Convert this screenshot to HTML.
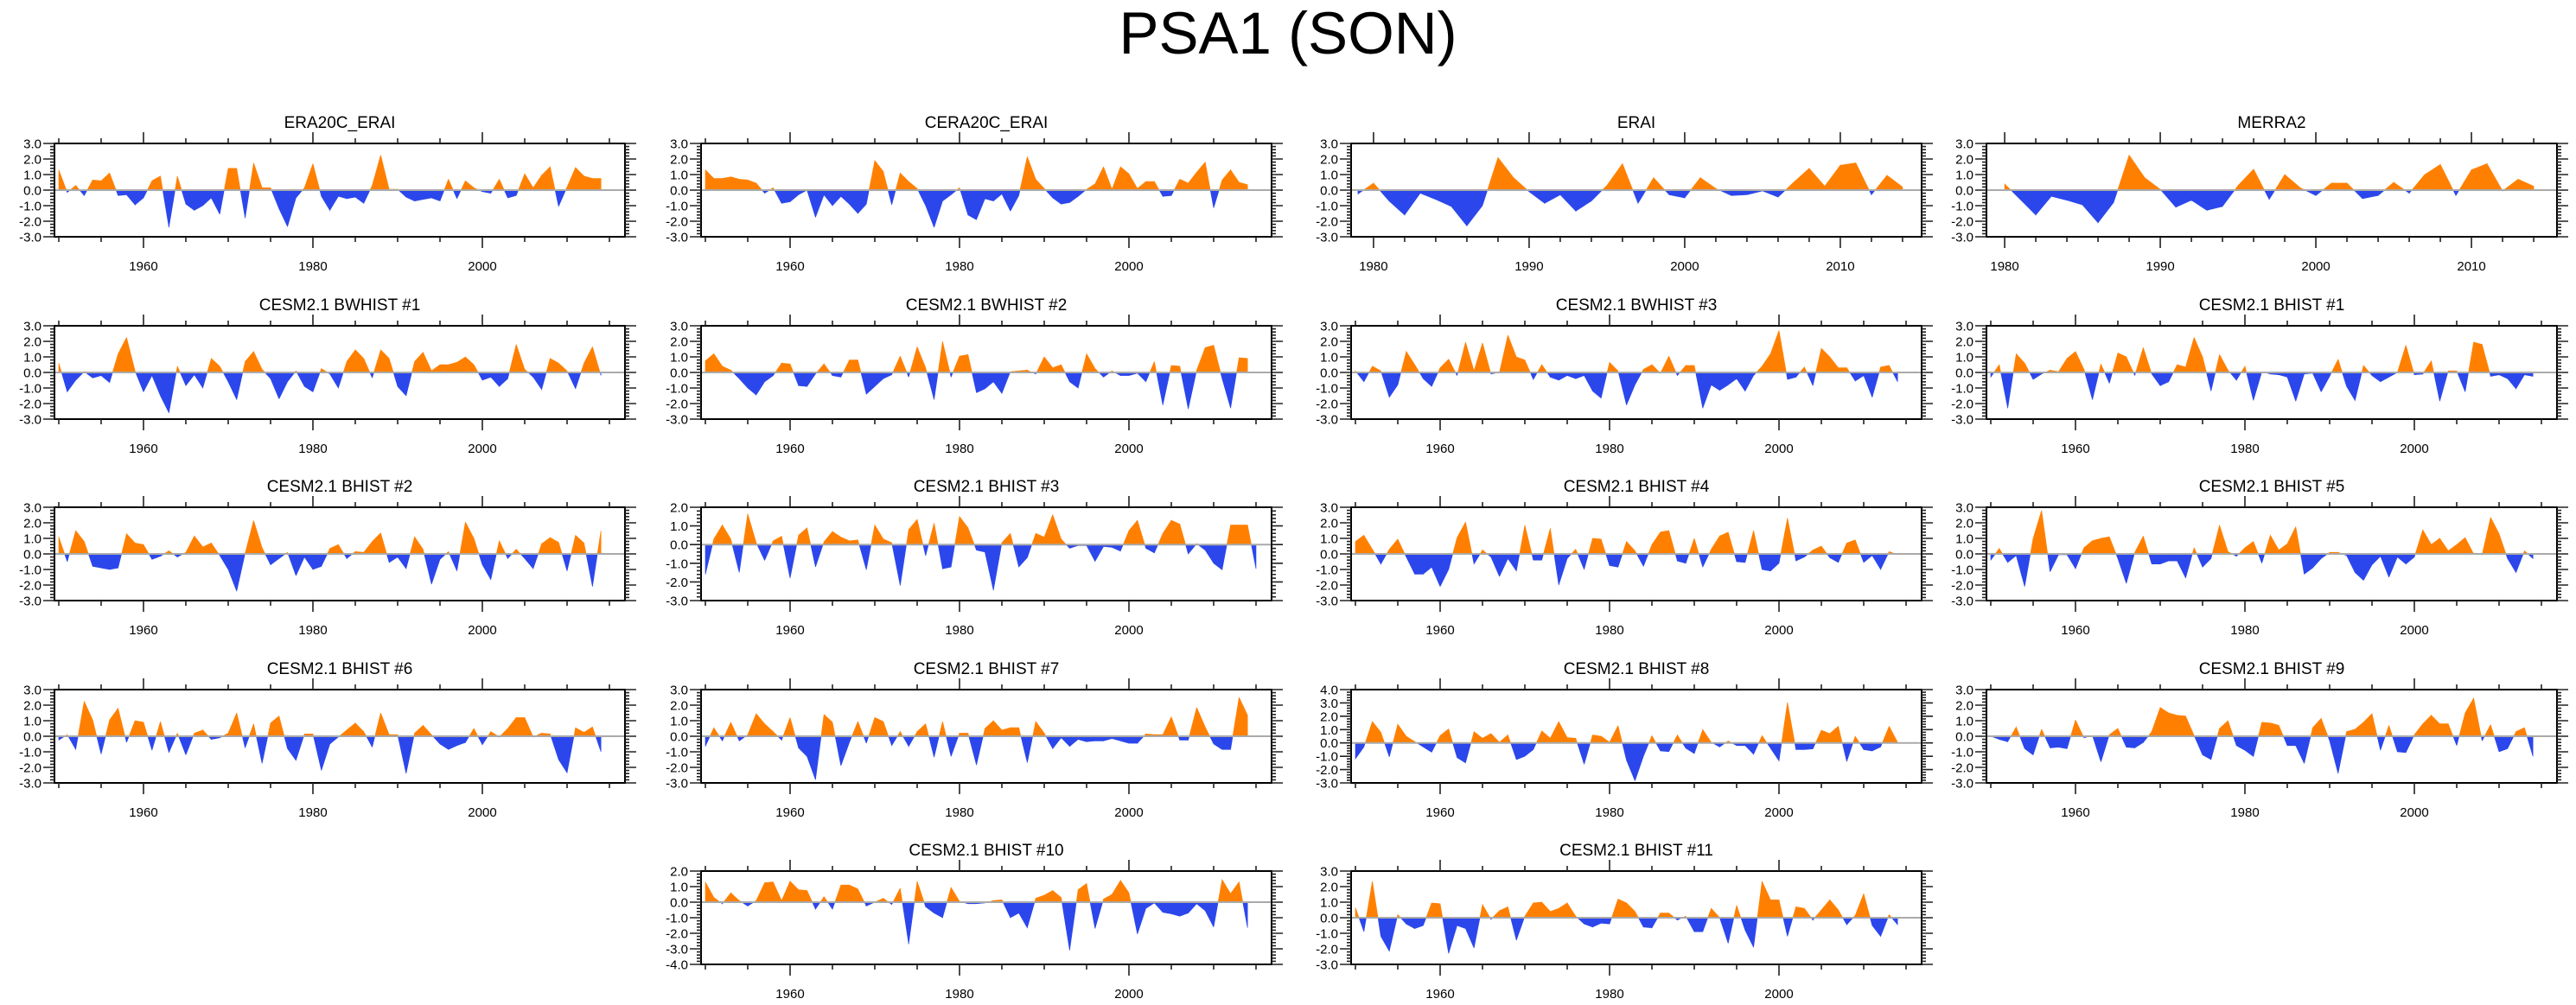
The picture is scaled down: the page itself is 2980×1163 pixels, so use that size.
<!DOCTYPE html>
<html><head><meta charset="utf-8"><title>PSA1 (SON)</title>
<style>
html,body{margin:0;padding:0;background:#fff;}
svg{display:block;font-family:"Liberation Sans",Arial,sans-serif;}
</style></head>
<body>
<svg id="chart" width="2980" height="1163" viewBox="0 0 2980 1163" xmlns="http://www.w3.org/2000/svg">
<rect x="0" y="0" width="2980" height="1163" fill="#fff"/>
<text x="1490" y="62" font-size="69" text-anchor="middle" fill="#000">PSA1 (SON)</text>
<defs id="clips"></defs>
</svg>
<script>
// ---- data (PSA1 index, SON) ----
const era20cVals = [1.3,-0.15,0.3,-0.35,0.65,0.6,1.1,-0.35,-0.3,-0.95,-0.5,0.6,0.9,-2.4,0.9,-0.9,-1.3,-1.0,-0.5,-1.55,1.4,1.4,-1.8,1.75,0.15,0.15,-1.2,-2.35,-0.5,0.15,1.7,-0.4,-1.3,-0.4,-0.55,-0.45,-0.85,0.3,2.25,0.05,0.05,-0.45,-0.7,-0.6,-0.5,-0.7,0.7,-0.55,0.6,0.15,-0.1,-0.2,0.7,-0.5,-0.35,1.05,0.15,0.95,1.5,-1.05,0.2,1.45,0.9,0.75,0.75];
const cera20cVals = [1.3,0.75,0.75,0.85,0.7,0.65,0.45,-0.2,0.15,-0.85,-0.75,-0.3,0.0,-1.75,-0.3,-1.0,-0.4,-0.9,-1.5,-0.9,1.9,1.2,-0.95,1.1,0.55,0.1,-1.0,-2.4,-0.7,-0.3,0.15,-1.6,-1.9,-0.55,-0.7,-0.25,-1.35,-0.35,2.15,0.7,0.1,-0.5,-0.9,-0.8,-0.4,0.05,0.4,1.5,0.05,1.5,1.05,0.1,0.55,0.55,-0.4,-0.35,0.7,0.45,1.15,1.8,-1.15,0.65,1.3,0.5,0.35];
const eraiVals = [-0.25,0.45,-0.7,-1.6,-0.2,-0.6,-1.05,-2.3,-1.0,2.1,0.8,-0.1,-0.85,-0.3,-1.35,-0.7,0.3,1.7,-0.85,0.8,-0.3,-0.5,0.8,0.1,-0.35,-0.3,-0.05,-0.45,0.5,1.4,0.25,1.6,1.75,-0.3,0.95,0.2];
const merra2Vals = [0.4,-0.6,-1.6,-0.4,-0.65,-0.95,-2.1,-0.8,2.25,0.8,0.05,-1.1,-0.65,-1.3,-1.05,0.3,1.35,-0.6,1.0,0.15,-0.35,0.45,0.45,-0.55,-0.35,0.5,-0.2,1.0,1.65,-0.35,1.3,1.7,-0.05,0.7,0.25];
const bwhist1Vals = [0.6,-1.25,-0.5,0.05,-0.35,-0.2,-0.65,1.2,2.25,0.1,-1.25,-0.2,-1.5,-2.6,0.4,-0.85,-0.15,-1.0,0.9,0.4,-0.6,-1.75,0.7,1.35,0.2,-0.4,-1.7,-0.6,0.1,-0.9,-1.25,0.25,-0.1,-1.0,0.7,1.45,0.9,-0.35,1.45,0.9,-0.9,-1.5,0.7,1.3,0.1,0.5,0.5,0.65,1.0,0.5,-0.5,-0.3,-0.9,-0.4,1.8,0.2,-0.3,-1.1,0.9,0.6,0.1,-1.05,0.6,1.65,-0.2];
const bwhist2Vals = [0.75,1.2,0.4,0.15,-0.4,-1.0,-1.45,-0.6,-0.2,0.6,0.55,-0.85,-0.9,-0.1,0.55,-0.2,-0.3,0.8,0.8,-1.4,-0.9,-0.4,-0.15,1.05,-0.3,1.65,0.3,-1.75,2.0,-0.3,1.05,1.15,-1.3,-1.05,-0.6,-1.35,0.05,0.1,0.15,-0.1,1.0,0.3,0.5,-0.6,-1.0,1.2,0.25,-0.3,0.1,-0.2,-0.2,-0.05,-0.6,0.7,-2.1,0.45,0.4,-2.35,0.15,1.6,1.75,-0.4,-2.3,0.95,0.9];
const bwhist3Vals = [0.1,-0.6,0.4,0.1,-1.6,-0.8,1.35,0.5,-0.4,-0.9,0.3,0.85,-0.2,1.95,0.1,1.9,-0.1,0.0,2.4,1.0,0.8,-0.45,0.5,-0.3,-0.5,-0.2,-0.4,-0.2,-1.2,-1.65,0.65,0.1,-2.1,-0.8,0.2,0.5,-0.05,1.05,-0.2,0.45,0.45,-2.3,-0.8,-1.15,-0.8,-0.4,-1.2,-0.2,0.4,1.2,2.7,-0.45,-0.3,0.35,-0.85,1.55,1.0,0.3,0.3,-0.55,-0.2,-1.6,0.35,0.45,-0.6];
const bhist1Vals = [-0.3,0.5,-2.3,1.2,0.6,-0.45,-0.1,0.15,0.05,0.9,1.35,0.2,-1.75,0.55,-0.7,1.25,1.0,-0.2,1.6,-0.1,-0.85,-0.6,0.5,0.35,2.25,1.0,-1.2,1.15,0.15,-0.5,0.4,-1.8,0.05,-0.1,-0.15,-0.3,-1.85,-0.1,-0.05,-1.25,-0.25,0.85,-0.9,-1.8,0.45,-0.2,-0.6,-0.3,0.0,1.75,-0.15,-0.1,0.75,-1.85,0.1,0.1,-1.25,1.95,1.8,-0.25,-0.15,-0.4,-1.05,-0.15,-0.25];
const bhist2Vals = [1.1,-0.5,1.5,0.8,-0.8,-0.9,-1.0,-0.9,1.3,0.7,0.6,-0.35,-0.15,0.2,-0.2,0.1,1.15,0.45,0.7,-0.1,-1.0,-2.4,0.05,2.15,0.4,-0.7,-0.3,0.1,-1.4,-0.2,-1.0,-0.8,0.35,0.6,-0.3,0.15,0.1,0.8,1.35,-0.55,-0.2,-0.95,1.1,0.3,-1.95,-0.35,0.15,-1.1,2.05,1.0,-0.7,-1.65,0.85,-0.3,0.3,-0.3,-0.95,0.65,1.05,0.75,-1.1,1.2,0.7,-2.1,1.5];
const bhist3Vals = [-1.6,0.3,1.05,0.3,-1.5,1.65,0.1,-0.85,0.2,0.45,-1.8,0.5,0.9,-1.2,0.15,0.7,0.4,0.2,0.25,-1.35,1.05,0.3,0.1,-2.2,0.8,1.35,-0.6,1.15,-1.3,-1.2,1.5,0.9,-0.3,-0.4,-2.45,0.1,0.6,-1.2,-0.7,0.6,0.4,1.6,0.3,-0.2,-0.05,-0.05,-0.9,-0.1,-0.15,-0.35,0.75,1.3,-0.2,-0.45,0.6,1.3,1.1,-0.5,0.05,-0.3,-1.0,-1.35,1.05,1.05,1.05,-1.3];
const bhist4Vals = [0.8,1.2,0.3,-0.65,0.3,0.95,-0.2,-1.3,-1.3,-0.85,-2.1,-1.0,1.05,2.05,-0.65,0.25,-0.2,-1.45,-0.3,-1.1,1.85,-0.4,-0.4,1.65,-2.0,-0.3,0.3,-1.0,1.0,0.95,-0.75,-0.85,0.8,0.2,-0.8,0.6,1.4,1.5,-0.45,-0.6,1.0,-0.85,0.3,1.15,1.4,-0.5,-0.55,1.5,-1.0,-1.1,-0.6,2.3,-0.45,-0.2,0.25,0.5,-0.25,-0.55,0.7,0.9,-0.55,-0.1,-1.0,0.15,-0.05];
const bhist5Vals = [-0.4,0.35,-0.55,-0.1,-2.1,1.0,2.8,-1.15,-0.05,-0.05,-0.95,0.4,0.85,1.0,1.1,-0.3,-1.9,0.1,1.15,-0.65,-0.65,-0.45,-0.45,-1.55,0.4,-0.85,-0.3,1.85,0.15,-0.15,0.4,0.8,-0.6,1.2,0.25,0.65,1.75,-1.3,-0.9,-0.3,0.1,0.1,-0.1,-1.2,-1.7,-0.7,-0.15,-1.5,-0.2,-0.65,-0.2,1.55,0.6,1.0,0.2,0.6,1.05,0.0,-0.05,2.35,1.3,-0.3,-1.2,0.2,-0.3];
const bhist6Vals = [-0.25,0.1,-0.85,2.25,1.05,-1.15,1.05,1.8,-0.4,1.0,0.9,-0.9,0.95,-1.05,0.2,-1.2,0.2,0.4,-0.2,-0.1,0.2,1.5,-0.75,0.8,-1.75,0.85,1.3,-0.8,-1.55,0.15,0.15,-2.2,-0.5,-0.05,0.4,0.85,0.3,-0.7,1.5,0.1,0.1,-2.4,0.2,0.7,0.1,-0.5,-0.85,-0.6,-0.4,0.5,-0.55,0.3,-0.05,0.5,1.2,1.2,-0.05,0.2,0.15,-1.5,-2.35,0.55,0.25,0.6,-1.0];
const bhist7Vals = [-0.65,0.55,-0.3,0.9,-0.3,0.1,1.45,0.8,0.3,-0.25,1.2,-0.75,-1.3,-2.8,1.4,0.9,-1.9,-0.4,0.95,-0.45,1.2,0.95,-0.6,0.3,-0.65,0.3,0.8,-1.35,0.95,-1.3,0.2,0.2,-1.85,0.5,1.0,0.4,0.55,0.55,-1.7,0.95,0.2,-0.8,-0.1,-0.65,-0.2,-0.35,-0.3,-0.3,-0.15,-0.3,-0.45,-0.45,0.15,0.1,0.1,1.25,-0.25,-0.25,1.85,0.6,-0.5,-0.85,-0.85,2.5,1.35];
const bhist8Vals = [-1.2,-0.3,1.6,0.8,-1.05,1.4,0.5,0.1,-0.3,-0.7,0.55,1.05,-1.1,-1.5,0.85,0.35,0.7,0.05,0.6,-1.25,-1.0,-0.5,0.9,0.35,1.6,0.4,0.35,-1.6,0.6,0.5,0.05,1.3,-1.3,-2.85,-1.0,0.55,-0.6,-0.65,0.6,-0.4,-0.8,1.0,0.05,-0.3,0.15,-0.2,-0.2,-0.85,0.55,-0.4,-1.35,3.05,-0.5,-0.5,-0.45,0.95,0.7,1.25,-1.4,0.5,-0.5,-0.6,-0.3,1.25,0.05];
const bhist9Vals = [0.0,-0.2,-0.35,0.6,-0.8,-1.2,0.45,-0.75,-0.7,-0.8,1.05,-0.1,0.05,-1.65,0.1,0.5,-0.7,-0.75,-0.4,0.3,1.85,1.5,1.35,1.3,0.05,-1.2,-1.5,0.5,1.0,-0.6,-0.9,-1.3,0.9,0.85,0.7,-0.6,-0.6,-1.75,0.55,1.15,-0.3,-2.4,0.3,0.45,0.9,1.45,-0.9,0.7,-1.0,-1.05,0.1,0.8,1.35,0.8,0.8,-0.6,1.5,2.45,-0.3,0.75,-1.0,-0.8,0.3,0.55,-1.3];
const bhist10Vals = [1.3,0.3,-0.1,0.6,0.1,-0.25,0.1,1.25,1.3,0.1,1.35,0.8,0.75,-0.45,0.35,-0.45,1.1,1.1,0.85,-0.25,0.0,0.25,-0.15,0.9,-2.7,1.35,-0.3,-0.7,-1.0,0.95,0.05,-0.1,-0.1,-0.05,0.1,0.15,-1.0,-0.7,-1.65,0.25,0.45,0.75,0.3,-3.1,0.8,1.2,-1.7,0.2,0.5,1.4,0.6,-2.05,-0.4,-0.05,-0.65,-0.75,-0.9,-0.7,-0.1,-0.55,-1.6,1.45,0.55,1.3,-1.65];
const bhist11Vals = [0.65,-0.9,2.35,-1.2,-2.15,0.2,-0.4,-0.7,-0.5,0.95,0.9,-2.3,-0.5,-0.7,-1.95,0.85,-0.1,0.45,0.7,-1.45,0.1,0.95,1.0,0.4,0.6,0.95,0.1,-0.4,-0.6,-0.35,-0.4,1.2,0.95,0.4,-0.6,-0.65,0.3,0.3,-0.15,0.1,-0.9,-0.9,0.6,0.0,-1.65,0.8,-0.8,-1.9,2.35,1.15,1.15,-1.2,0.7,0.6,-0.15,0.5,1.15,0.5,-0.45,0.15,1.55,-0.5,-1.2,0.2,-0.45];

// panel titles, first years and y ranges
const panelTitles = ["ERA20C_ERAI","CERA20C_ERAI","ERAI","MERRA2","CESM2.1 BWHIST #1","CESM2.1 BWHIST #2","CESM2.1 BWHIST #3","CESM2.1 BHIST #1","CESM2.1 BHIST #2","CESM2.1 BHIST #3","CESM2.1 BHIST #4","CESM2.1 BHIST #5","CESM2.1 BHIST #6","CESM2.1 BHIST #7","CESM2.1 BHIST #8","CESM2.1 BHIST #9","CESM2.1 BHIST #10","CESM2.1 BHIST #11"];
const panelSeries = [era20cVals,cera20cVals,eraiVals,merra2Vals,bwhist1Vals,bwhist2Vals,bwhist3Vals,bhist1Vals,bhist2Vals,bhist3Vals,bhist4Vals,bhist5Vals,bhist6Vals,bhist7Vals,bhist8Vals,bhist9Vals,bhist10Vals,bhist11Vals];
const panelStartYears = [1950,1950,1979,1980,1950,1950,1950,1950,1950,1950,1950,1950,1950,1950,1950,1950,1950,1950];
const panelYMin = [-3,-3,-3,-3,-3,-3,-3,-3,-3,-3,-3,-3,-3,-3,-3,-3,-4,-3];
const panelYMax = [3,3,3,3,3,3,3,3,3,2,3,3,3,3,4,3,2,3];
const xTickLabels1950 = [1960,1980,2000];
const xTickLabels1980 = [1980,1990,2000,2010];

// ---- layout ----
const colLeft = [63, 811, 1563, 2298];
const rowTop = [166, 377, 587, 798, 1008];
const panelCell = [[0,0],[0,1],[0,2],[0,3],[1,0],[1,1],[1,2],[1,3],[2,0],[2,1],[2,2],[2,3],[3,0],[3,1],[3,2],[3,3],[4,1],[4,2]];
const PW = 660, PH = 108;
const NS = "http://www.w3.org/2000/svg";
const svg = document.getElementById("chart");
const defs = document.getElementById("clips");
const ORANGE = "#ff8000", BLUE = "#2b47ec";

function mk(tag, attrs, parent) {
  const e = document.createElementNS(NS, tag);
  for (const k in attrs) e.setAttribute(k, attrs[k]);
  (parent || svg).appendChild(e);
  return e;
}

function xRangeFor(i) {
  if (panelStartYears[i] === 1979) return [1978.56, 1978.56 + PW / 18];
  if (panelStartYears[i] === 1980) return [1978.83, 1978.83 + PW / 18];
  return [1949.49, 1949.49 + PW / 9.8];
}

panelTitles.forEach(function (title, i) {
  const L = colLeft[panelCell[i][1]], T = rowTop[panelCell[i][0]];
  const xr = xRangeFor(i), ymin = panelYMin[i], ymax = panelYMax[i];
  const xs = function (yr) { return L + (yr - xr[0]) / (xr[1] - xr[0]) * PW; };
  const ys = function (v) { return T + (ymax - v) / (ymax - ymin) * PH; };
  const slug = title.toLowerCase().replace(/[^a-z0-9]+/g, "-").replace(/-+$/, "");

  const g = mk("g", {});
  
  

  const t = mk("text", {x: L + PW / 2, y: T - 18, "font-size": 19, "text-anchor": "middle", fill: "#000"}, g);
  t.textContent = title;
  
  

  const cp = mk("clipPath", {id: "clip" + i}, defs);
  mk("rect", {x: L, y: T, width: PW, height: PH}, cp);

  // area fills
  const vals = panelSeries[i], y0 = panelStartYears[i];
  let pos = "", neg = "";
  const zy = ys(0);
  for (let k = 0; k < vals.length - 1; k++) {
    const a = vals[k], b = vals[k + 1];
    const xa = xs(y0 + k), xb = xs(y0 + k + 1);
    if ((a >= 0 && b >= 0) || (a <= 0 && b <= 0)) {
      const d = "M" + xa + "," + zy + "L" + xa + "," + ys(a) + "L" + xb + "," + ys(b) + "L" + xb + "," + zy + "Z";
      if (a + b >= 0) pos += d; else neg += d;
    } else {
      const f = a / (a - b), xc = xa + f * (xb - xa);
      const d1 = "M" + xa + "," + zy + "L" + xa + "," + ys(a) + "L" + xc + "," + zy + "Z";
      const d2 = "M" + xc + "," + zy + "L" + xb + "," + ys(b) + "L" + xb + "," + zy + "Z";
      if (a > 0) { pos += d1; neg += d2; } else { neg += d1; pos += d2; }
    }
  }
  const ap = mk("path", {d: pos || "M0,0", fill: ORANGE, stroke: ORANGE, "stroke-width": 0.6, "clip-path": "url(#clip" + i + ")"}, g);
  
  
  const an = mk("path", {d: neg || "M0,0", fill: BLUE, stroke: BLUE, "stroke-width": 0.6, "clip-path": "url(#clip" + i + ")"}, g);
  
  

  const zl = mk("line", {x1: L, x2: L + PW, y1: zy, y2: zy, stroke: "#aaa", "stroke-width": 2}, g);
  
  

  // frame
  const fr = mk("rect", {x: L, y: T, width: PW, height: PH, fill: "none", stroke: "#000", "stroke-width": 2}, g);
  
  

  // y ticks
  let tk = "";
  for (let v = ymin; v <= ymax + 1e-6; v += 0.2) {
    const vv = Math.round(v * 10) / 10, yy = ys(vv);
    const major = Math.abs(vv - Math.round(vv)) < 1e-6;
    const len = major ? 13 : 5;
    tk += "M" + L + "," + yy + "h" + (-len) + "M" + (L + PW) + "," + yy + "h" + len;
    if (major) {
      const lb = mk("text", {x: L - 15, y: yy + 5.5, "font-size": 15, "text-anchor": "end", fill: "#000"}, g);
      lb.textContent = vv.toFixed(1);
      
      
    }
  }
  // x ticks
  const short = panelStartYears[i] >= 1979;
  const step = short ? 2 : 5, majorStep = short ? 10 : 20;
  const labels = short ? xTickLabels1980 : xTickLabels1950;
  for (let yr = Math.ceil(xr[0] / step) * step; yr <= xr[1]; yr += step) {
    const xx = xs(yr);
    const major = labels.indexOf(yr) >= 0;
    const len = major ? 13 : 6;
    tk += "M" + xx + "," + T + "v" + (-len) + "M" + xx + "," + (T + PH) + "v" + len;
  }
  labels.forEach(function (yr) {
    const lb = mk("text", {x: xs(yr), y: T + PH + 39, "font-size": 15, "text-anchor": "middle", fill: "#000"}, g);
    lb.textContent = String(yr);
    
    
  });
  const tp = mk("path", {d: tk, stroke: "#222", "stroke-width": 1.6, fill: "none"}, g);
  
  
});
</script>
</body></html>
